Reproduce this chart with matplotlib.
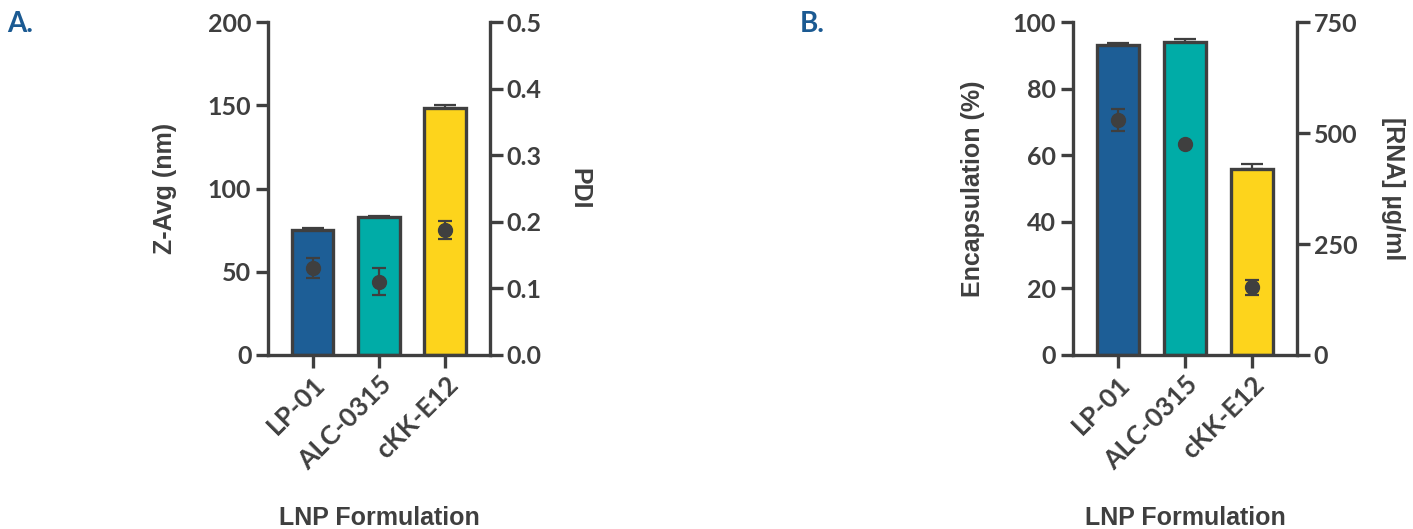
import numpy as np
import matplotlib
matplotlib.use("Agg")
import matplotlib.pyplot as plt

# data
formulations = ["LP-01", "ALC-0315", "cKK-E12"]
zavg = [75, 83, 148.5]
zavg_err = [1.5, 0.5, 2.0]
pdi = [0.130, 0.110, 0.188]
pdi_err = [0.015, 0.020, 0.014]
encaps = [93.2, 94.2, 55.9]
encaps_err = [0.6, 0.7, 1.5]
rna = [530, 476, 153]
rna_err = [25, 0, 17]

bar_colors = ["#1d5e96", "#00aca7", "#fdd41c"]
dark = "#3f3f3f"
panel_blue = "#1b5a92"

tick_font = dict(family="Lato", weight="bold", size=18, color=dark)
xtick_font = dict(family="Lato", weight="bold", size=19, color=dark)
label_font = dict(family="Liberation Sans", weight="bold", size=18, color=dark)

fig = plt.figure(figsize=(14.13, 5.29), dpi=100)


def style_axis(ax):
    ax.spines["top"].set_visible(False)
    for side in ["left", "bottom", "right"]:
        ax.spines[side].set_linewidth(2.4)
        ax.spines[side].set_color(dark)
    ax.tick_params(width=2.4, length=9, color=dark, pad=3)


def panel(rect, left_vals, left_err, left_lim, left_ticks, left_label,
          right_vals, right_err, right_lim, right_ticks, right_label,
          right_fmt, letter, letter_x, left_pad, right_pad):
    ax = fig.add_axes(rect)
    x = np.arange(len(formulations))
    ax.bar(x, left_vals, width=0.63, color=bar_colors, edgecolor=dark,
           linewidth=2.4, zorder=2)
    ax.errorbar(x, left_vals, yerr=[np.zeros(3), left_err], fmt="none",
                ecolor=dark, elinewidth=1.6, capsize=8, capthick=1.6, zorder=3)
    ax.set_xlim(-0.67, 2.67)
    ax.set_ylim(*left_lim)
    ax.set_yticks(left_ticks)
    ax.set_yticklabels([str(t) for t in left_ticks], fontdict=tick_font)
    ax.set_xticks(x)
    ax.set_xticklabels(formulations, rotation=45, ha="right",
                       rotation_mode="anchor", fontdict=xtick_font)
    ax.set_ylabel(left_label, fontdict=label_font, labelpad=left_pad)
    ax.set_xlabel("LNP Formulation", fontdict=label_font, va="center")
    ax.xaxis.set_label_coords(0.5, -0.49)
    style_axis(ax)
    ax.spines["right"].set_visible(False)

    ax2 = ax.twinx()
    ax2.errorbar(x, right_vals, yerr=right_err, fmt="o", color=dark,
                 markersize=10, ecolor=dark, elinewidth=1.6, capsize=5,
                 capthick=1.6, zorder=4)
    ax2.set_ylim(*right_lim)
    ax2.set_yticks(right_ticks)
    ax2.set_yticklabels([right_fmt.format(t) for t in right_ticks],
                        fontdict=tick_font)
    ax2.set_ylabel(right_label, fontdict=label_font, rotation=-90,
                   labelpad=right_pad)
    style_axis(ax2)
    ax2.spines["left"].set_visible(False)
    ax2.spines["bottom"].set_visible(False)

    fig.text(letter_x, 0.955, letter, family="Lato", weight="bold",
             size=20, color=panel_blue, va="center")
    return ax, ax2


panel([0.1897, 0.329, 0.157, 0.629], zavg, zavg_err, (0, 200),
      [0, 50, 100, 150, 200], "Z-Avg (nm)",
      pdi, pdi_err, (0, 0.5), [0, 0.1, 0.2, 0.3, 0.4, 0.5], "PDI",
      "{:.1f}", "A.", 0.005, 22, 36)

panel([0.7594, 0.329, 0.1585, 0.629], encaps, encaps_err, (0, 100),
      [0, 20, 40, 60, 80, 100], "Encapsulation (%)",
      rna, rna_err, (0, 750), [0, 250, 500, 750], "[RNA] µg/ml",
      "{:d}", "B.", 0.566, 20, 34)

fig.savefig("out.png", dpi=100)
